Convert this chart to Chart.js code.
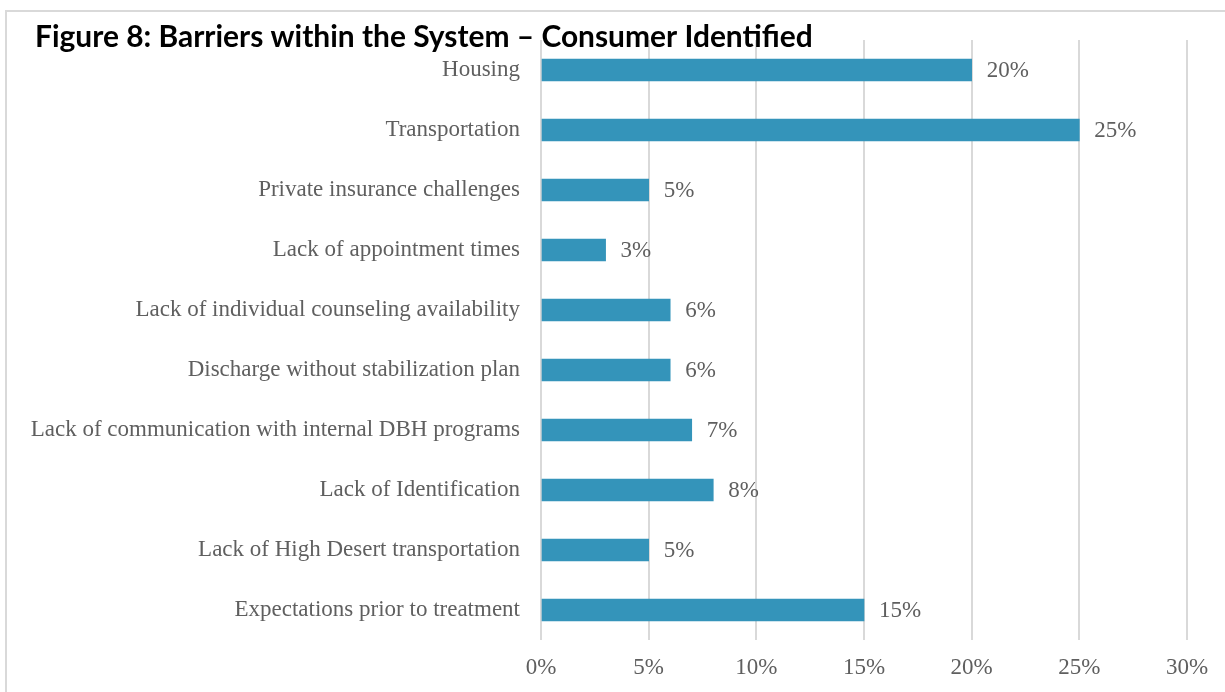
<!DOCTYPE html>
<html>
<head>
<meta charset="utf-8">
<script src="https://cdn.jsdelivr.net/npm/chart.js@4.4.0/dist/chart.umd.min.js"></script>
<style>
  html, body { margin: 0; padding: 0; background: #fff; }
  #wrap { position: relative; width: 1225px; height: 692px; overflow: hidden; }
</style>
</head>
<body>
<div id="wrap"><canvas id="myChart" width="1225" height="692"></canvas></div>
<script>
// barriers reported by consumers, share of responses (%)
var barriers = [
  'Housing',
  'Transportation',
  'Private insurance challenges',
  'Lack of appointment times',
  'Lack of individual counseling availability',
  'Discharge without stabilization plan',
  'Lack of communication with internal DBH programs',
  'Lack of Identification',
  'Lack of High Desert transportation',
  'Expectations prior to treatment'
];
var percents = [20, 25, 5, 3, 6, 6, 7, 8, 5, 15];
var xTicks = [0, 5, 10, 15, 20, 25, 30];

var titleText = 'Figure 8: Barriers within the System \u2013 Consumer Identified';
var serif = '"Liberation Serif", "Times New Roman", serif';
var labelSize = 23;
var grey = '#5f5f5f';

// frame around the figure + heading drawn over the plot
var framePlugin = {
  id: 'frame',
  beforeDraw: function(chart) {
    var ctx = chart.ctx;
    ctx.save();
    ctx.fillStyle = '#fff';
    ctx.fillRect(0, 0, chart.width, chart.height);
    ctx.strokeStyle = '#d9d9d9';
    ctx.lineWidth = 2;
    ctx.strokeRect(6, 11, 1260, 720);
    ctx.restore();
  },
  afterDraw: function(chart) {
    var ctx = chart.ctx;
    ctx.save();
    var size = 30;
    ctx.font = 'bold ' + size + 'px Lato, "Open Sans", sans-serif';
    var w = ctx.measureText(titleText).width;
    size = size * 778 / w;
    ctx.font = 'bold ' + size.toFixed(2) + 'px Lato, "Open Sans", sans-serif';
    ctx.fillStyle = '#000';
    ctx.textBaseline = 'alphabetic';
    ctx.fillText(titleText, 35, 47);
    ctx.restore();
  }
};

// value labels just past the end of each bar
var valueLabels = {
  id: 'valueLabels',
  afterDatasetsDraw: function(chart) {
    var ctx = chart.ctx;
    var meta = chart.getDatasetMeta(0);
    ctx.save();
    ctx.font = labelSize + 'px ' + serif;
    ctx.fillStyle = grey;
    ctx.textAlign = 'left';
    ctx.textBaseline = 'middle';
    meta.data.forEach(function(bar, i) {
      ctx.fillText(percents[i] + '%', bar.x + 15, bar.y + 1);
    });
    ctx.restore();
  }
};

var myChart = new Chart(document.getElementById('myChart'), {
  type: 'bar',
  data: {
    labels: barriers,
    datasets: [{
      label: 'Consumer identified',
      backgroundColor: '#3494BA',
      data: percents,
      barThickness: 22
    }]
  },
  options: {
    indexAxis: 'y',
    responsive: false,
    animation: false,
    layout: { padding: { top: 40, right: 38, left: 0, bottom: 0 } },
    plugins: {
      legend: { display: false },
      title: { display: false },
      tooltip: { enabled: false }
    },
    scales: {
      x: {
        min: 0,
        max: 30,
        afterBuildTicks: function(scale) {
          scale.ticks = xTicks.map(function(v) { return { value: v }; });
        },
        afterFit: function(scale) { scale.height = 52; },
        grid: { color: '#d9d9d9', lineWidth: 2, drawTicks: false },
        border: { display: false },
        ticks: {
          padding: 14,
          color: grey,
          font: { family: serif, size: labelSize },
          callback: function(v) { return v + '%'; }
        }
      },
      y: {
        afterFit: function(scale) { scale.width = 541; },
        grid: { display: false, drawTicks: false },
        border: { display: false },
        ticks: {
          padding: 21,
          color: grey,
          font: { family: serif, size: labelSize }
        }
      }
    }
  },
  plugins: [framePlugin, valueLabels]
});
</script>
</body>
</html>
